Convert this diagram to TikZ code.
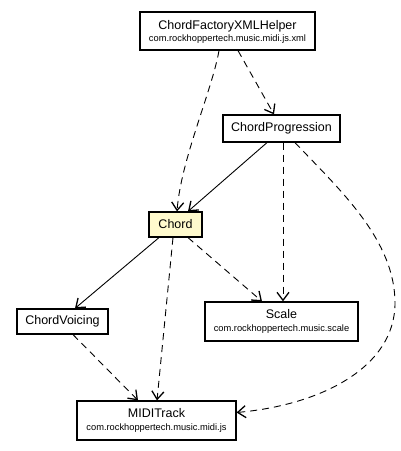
\documentclass[tikz,border=0pt]{standalone}
\usepackage{fontspec}
\setmainfont{Liberation Sans}
\usetikzlibrary{arrows.meta,calc}
\definecolor{ctx}{HTML}{FFFACD}
\begin{document}
\begin{tikzpicture}[x=1pt,y=-1pt,
  box/.style={draw, line width=1.2pt, inner sep=0pt, rectangle, fill=white},
  nm/.style={font=\fontsize{12.5}{14}\selectfont, inner sep=0pt},
  nmb/.style={font=\fontsize{12.5}{14}\selectfont, inner sep=0pt, anchor=base},
  pk/.style={font=\fontsize{9.3}{11}\selectfont, inner sep=0pt, anchor=base},
  tip/.style={-{Straight Barb[length=8pt,width=12pt,line width=1.3pt]}},
  dep/.style={draw, line width=0.9pt, dash pattern=on 7pt off 5pt, tip},
  ass/.style={draw, line width=0.9pt, tip}]
\useasboundingbox (0,0) rectangle (400,451);

% boxes
\node[box, minimum width=175pt, minimum height=38pt] (cfx) at (227.5,31) {};
\node[nmb] (cfxn) at (227.5,29.3) {ChordFactoryXMLHelper};
\node[pk] (cfxp) at (227.5,41) {com.rockhoppertech.music.midi.js.xml};

\node[box, minimum width=117pt, minimum height=27pt, nm] (cp) at (281.5,128.5) {ChordProgression};

\node[box, minimum width=53pt, minimum height=25pt, nm, fill=ctx] (chord) at (175.5,224.5) {Chord};

\node[box, minimum width=91pt, minimum height=25pt, nm] (cv) at (62.5,321.5) {ChordVoicing};

\node[box, minimum width=153pt, minimum height=39pt] (scale) at (281.5,321.5) {};
\node[nmb] (scalen) at (281.5,318.3) {Scale};
\node[pk] (scalep) at (281.5,331.5) {com.rockhoppertech.music.scale};

\node[box, minimum width=159pt, minimum height=39pt] (midi) at (156.5,420.5) {};
\node[nmb] (midin) at (156.5,417) {MIDITrack};
\node[pk] (midip) at (156.5,430) {com.rockhoppertech.music.midi.js};

% connectors
\draw[dep] ([xshift=-8.5pt]cfx.south) .. controls ($([xshift=-8.5pt]cfx.south)+(-7,40)$) and ($([xshift=1.5pt]chord.north)+(4,-52)$) .. ([xshift=1.5pt]chord.north);
\draw[dep] ([xshift=10.5pt]cfx.south) -- ([xshift=-7.5pt]cp.north);
\draw[ass] ([xshift=-14.5pt]cp.south) -- ([xshift=12.5pt]chord.north);
\draw[dep] ([xshift=1.5pt]cp.south) -- ([xshift=1.5pt]scale.north);
\coordinate (bend) at (395,303);
\draw[dep] ([xshift=13.5pt]cp.south) .. controls (340,190) and (395,240) .. (bend)
  .. controls (395,368) and (320,405) .. ([yshift=8pt]midi.east);
\draw[dep] ([xshift=12.5pt]chord.south) -- ([xshift=-19.5pt]scale.north);
\draw[ass] ([xshift=-16.5pt]chord.south) -- ([xshift=12.5pt]cv.north);
\draw[dep] ([xshift=-2.5pt]chord.south) -- ([xshift=0.5pt]midi.north);
\draw[dep] ([xshift=10.5pt]cv.south) -- ([xshift=-18.5pt]midi.north);
\end{tikzpicture}
\end{document}
